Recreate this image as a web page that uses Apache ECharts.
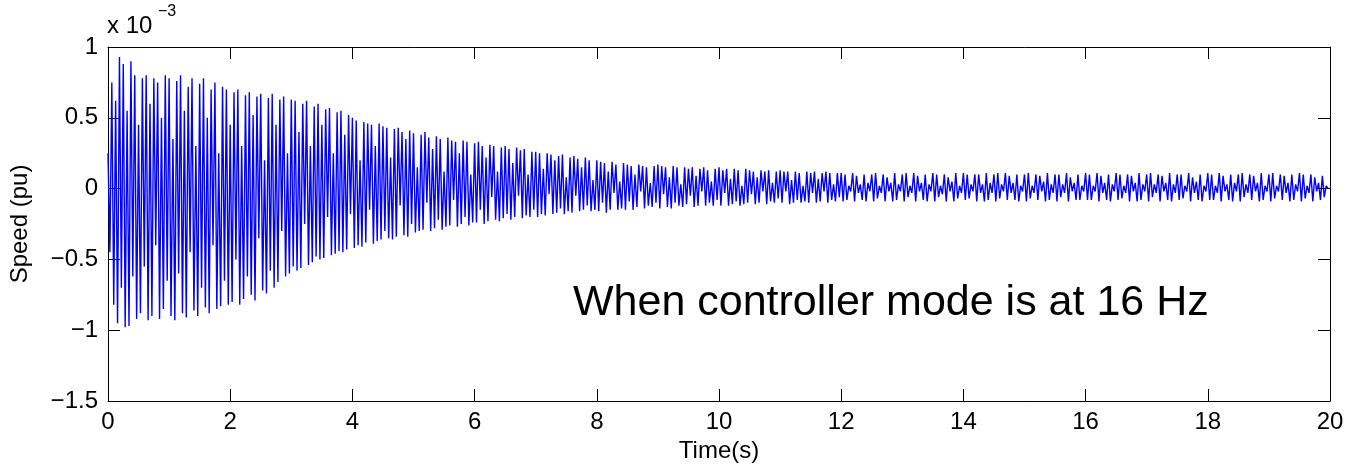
<!DOCTYPE html>
<html>
<head>
<meta charset="utf-8">
<script src="https://cdn.jsdelivr.net/npm/echarts@6/dist/echarts.min.js"></script>
<style>html,body{margin:0;padding:0;background:#fff}#c{width:1351px;height:471px}</style>
</head>
<body>
<div id="c"></div>
<script>
// Speed deviation in units of 1e-3 pu, alternating peaks/troughs, sampled every timeStep seconds
const timeStep = 0.03125;
const speedE3 = [
 0.25,-0.45,0.75,-0.82,0.62,-0.95,0.93,-0.70,0.88,-0.98,0.55,-0.97,0.90,-0.62,0.80,-0.92,0.45,-0.88,0.78,-0.55,0.80,-0.93,0.60,-0.90,0.78,-0.40,0.75,-0.92,0.50,-0.85,0.80,-0.65,
 0.78,-0.90,0.35,-0.93,0.76,-0.60,0.80,-0.88,0.55,-0.91,0.72,-0.45,0.78,-0.86,0.30,-0.90,0.74,-0.70,0.78,-0.84,0.50,-0.88,0.70,-0.40,0.75,-0.85,0.25,-0.83,0.72,-0.65,0.70,-0.82,
 0.45,-0.80,0.68,-0.50,0.70,-0.82,0.30,-0.78,0.66,-0.62,0.68,-0.75,0.52,-0.79,0.65,-0.35,0.67,-0.72,0.20,-0.74,0.64,-0.58,0.67,-0.70,0.45,-0.66,0.63,-0.30,0.65,-0.62,0.25,-0.60,
 0.63,-0.55,0.62,-0.58,0.40,-0.56,0.60,-0.25,0.62,-0.54,0.30,-0.52,0.58,-0.48,0.60,-0.50,0.45,-0.49,0.56,-0.20,0.57,-0.47,0.25,-0.46,0.54,-0.44,0.55,-0.45,0.38,-0.43,0.52,-0.18,
 0.50,-0.42,0.48,-0.40,0.20,-0.41,0.47,-0.38,0.46,-0.15,0.45,-0.39,0.30,-0.37,0.46,-0.36,0.44,-0.30,0.43,-0.35,0.22,-0.36,0.42,-0.34,0.43,-0.12,0.40,-0.33,0.35,-0.34,0.41,-0.25,
 0.39,-0.31,0.15,-0.30,0.38,-0.29,0.40,-0.10,0.36,-0.30,0.28,-0.28,0.37,-0.22,0.35,-0.29,0.12,-0.27,0.36,-0.26,0.34,-0.08,0.33,-0.27,0.25,-0.25,0.34,-0.20,0.33,-0.26,0.10,-0.24,
 0.32,-0.24,0.33,-0.15,0.30,-0.25,0.22,-0.23,0.31,-0.06,0.30,-0.22,0.12,-0.23,0.29,-0.21,0.30,-0.18,0.28,-0.22,0.18,-0.20,0.29,-0.05,0.27,-0.21,0.28,-0.19,0.10,-0.20,0.26,-0.15,
 0.26,-0.20,0.25,-0.18,0.14,-0.19,0.25,-0.04,0.24,-0.18,0.20,-0.17,0.23,-0.14,0.24,-0.18,0.08,-0.16,0.22,-0.17,0.23,-0.05,0.21,-0.16,0.15,-0.15,0.22,-0.12,0.20,-0.16,0.06,-0.15,
 0.20,-0.16,0.19,-0.10,0.18,-0.17,0.12,-0.15,0.19,-0.03,0.17,-0.15,0.05,-0.14,0.18,-0.15,0.17,-0.09,0.16,-0.15,0.10,-0.13,0.17,-0.02,0.16,-0.14,0.15,-0.12,0.04,-0.13,0.16,-0.10,
 0.17,-0.14,0.16,-0.04,0.15,-0.13,0.08,-0.14,0.16,-0.10,0.15,-0.12,0.03,-0.13,0.15,-0.11,0.14,-0.05,0.15,-0.13,0.09,-0.12,0.14,-0.02,0.15,-0.12,0.13,-0.10,0.05,-0.12,0.14,-0.08,
 0.15,-0.12,0.13,-0.03,0.14,-0.12,0.07,-0.11,0.14,-0.09,0.13,-0.12,0.02,-0.11,0.14,-0.10,0.13,-0.04,0.12,-0.11,0.08,-0.10,0.13,-0.02,0.12,-0.11,0.13,-0.09,0.04,-0.10,0.12,-0.07,
 0.13,-0.10,0.12,-0.02,0.12,-0.11,0.06,-0.10,0.12,-0.08,0.11,-0.10,0.02,-0.09,0.12,-0.10,0.11,-0.03,0.12,-0.10,0.07,-0.09,0.11,-0.02,0.12,-0.10,0.11,-0.08,0.03,-0.09,0.11,-0.06,
 0.11,-0.09,0.10,-0.08,0.02,-0.02,0.11,-0.09,0.09,-0.03,0.03,-0.08,0.10,-0.09,0.04,-0.02,0.10,-0.09,0.11,-0.07,0.02,-0.03,0.10,-0.09,0.08,-0.02,0.04,-0.09,0.11,-0.08,0.03,-0.02,
 0.10,-0.09,0.11,-0.06,0.02,-0.03,0.11,-0.09,0.09,-0.02,0.04,-0.08,0.10,-0.09,0.03,-0.02,0.11,-0.09,0.10,-0.06,0.02,-0.04,0.10,-0.09,0.08,-0.02,0.05,-0.09,0.11,-0.07,0.02,-0.03,
 0.11,-0.08,0.10,-0.07,0.03,-0.02,0.10,-0.09,0.10,-0.03,0.03,-0.09,0.11,-0.08,0.04,-0.03,0.10,-0.09,0.11,-0.07,0.03,-0.02,0.11,-0.08,0.09,-0.03,0.04,-0.08,0.10,-0.09,0.02,-0.02,
 0.10,-0.09,0.11,-0.07,0.02,-0.03,0.10,-0.08,0.09,-0.02,0.05,-0.09,0.11,-0.08,0.03,-0.03,0.10,-0.09,0.10,-0.06,0.03,-0.03,0.11,-0.09,0.08,-0.02,0.04,-0.08,0.10,-0.08,0.02,-0.02,
 0.11,-0.08,0.10,-0.08,0.02,-0.02,0.11,-0.09,0.09,-0.03,0.04,-0.08,0.10,-0.09,0.03,-0.02,0.11,-0.08,0.10,-0.07,0.02,-0.03,0.10,-0.09,0.09,-0.02,0.04,-0.09,0.11,-0.08,0.03,-0.02,
 0.10,-0.09,0.11,-0.06,0.03,-0.03,0.10,-0.09,0.09,-0.02,0.04,-0.08,0.11,-0.09,0.03,-0.03,0.10,-0.08,0.10,-0.07,0.02,-0.02,0.11,-0.09,0.08,-0.03,0.05,-0.08,0.10,-0.09,0.02,-0.02,
 0.11,-0.08,0.10,-0.08,0.02,-0.03,0.11,-0.09,0.09,-0.02,0.03,-0.08,0.10,-0.09,0.04,-0.02,0.10,-0.09,0.11,-0.06,0.03,-0.03,0.10,-0.08,0.09,-0.02,0.04,-0.09,0.11,-0.08,0.02,-0.02,
 0.10,-0.09,0.11,-0.07,0.02,-0.02,0.10,-0.08,0.09,-0.03,0.04,-0.09,0.10,-0.08,0.03,-0.02,0.11,-0.09,0.10,-0.07,0.02,-0.03,0.10,-0.09,0.08,-0.02,0.04,-0.08,0.09,-0.06,0.02,0.00
];
const xTicks = { min: 0, max: 20, interval: 2 };
const yTicks = { min: -1.5, max: 1, interval: 0.5 };
const xLabel = 'Time(s)';
const yLabel = 'Speed (pu)';
const scaleText = 'x 10';
const scaleExp = '\u22123';
const note = 'When controller mode is at 16 Hz';

const data = speedE3.map((v, i) => [i * timeStep, v]);
const FONT = "'Liberation Sans', Arial, sans-serif";
const minus = v => String(v).replace('-', '\u2212');

const chart = echarts.init(document.getElementById('c'), null, { renderer: 'canvas' });
const axisCommon = () => ({
  axisLine: { show: true, onZero: false, lineStyle: { color: '#000', width: 1 } },
  axisTick: { show: true, inside: true, length: 12, lineStyle: { color: '#000', width: 1 } },
  splitLine: { show: false }
});
chart.setOption({
  animation: false,
  backgroundColor: '#fff',
  grid: { left: 108, right: 21, top: 47, bottom: 70, containLabel: false },
  xAxis: [
    Object.assign({
      type: 'value', position: 'bottom', min: xTicks.min, max: xTicks.max, interval: xTicks.interval,
      name: xLabel, nameLocation: 'middle', nameGap: 37,
      nameTextStyle: { fontFamily: FONT, fontSize: 24, color: '#000' },
      axisLabel: { fontFamily: FONT, fontSize: 24, color: '#000', margin: 9, formatter: minus }
    }, axisCommon()),
    Object.assign({
      type: 'value', position: 'top', min: xTicks.min, max: xTicks.max, interval: xTicks.interval,
      axisLabel: { show: false }
    }, axisCommon())
  ],
  yAxis: [
    Object.assign({
      type: 'value', position: 'left', min: yTicks.min, max: yTicks.max, interval: yTicks.interval,
      name: yLabel, nameLocation: 'middle', nameGap: 76,
      nameTextStyle: { fontFamily: FONT, fontSize: 24, color: '#000' },
      axisLabel: { fontFamily: FONT, fontSize: 24, color: '#000', margin: 10, formatter: minus }
    }, axisCommon()),
    Object.assign({
      type: 'value', position: 'right', min: yTicks.min, max: yTicks.max, interval: yTicks.interval,
      axisLabel: { show: false }
    }, axisCommon())
  ],
  series: [{
    type: 'line', data: data, xAxisIndex: 0, yAxisIndex: 0,
    showSymbol: false, symbol: 'none', sampling: null,
    lineStyle: { color: '#0000ff', width: 1.4 },
    silent: true
  }],
  graphic: [
    { type: 'text', left: 107, top: 14, style: { text: scaleText, font: '24px ' + FONT, fill: '#000' } },
    { type: 'text', left: 158, top: 4, style: { text: scaleExp, font: '16px ' + FONT, fill: '#000' } },
    { type: 'text', left: 573, top: 282, style: { text: note, font: '43px ' + FONT, fill: '#000' } }
  ]
});
</script>
</body>
</html>
